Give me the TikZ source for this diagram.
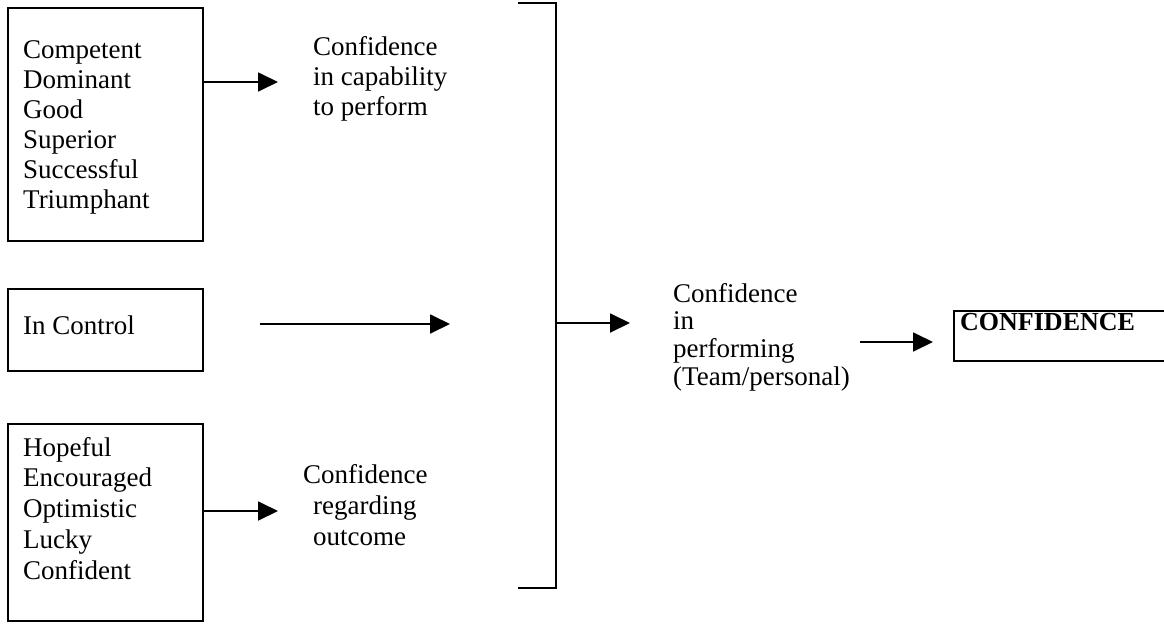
\documentclass[tikz,border=0pt]{standalone}
\usepackage{fontspec}
\setmainfont{Liberation Serif}
\usetikzlibrary{arrows.meta,positioning}
\tikzset{
  wordbox/.style = {draw, line width=1.8pt, anchor=north west, inner sep=0pt},
  words/.style   = {anchor=north west, inner sep=0pt, align=left,
                    font=\fontsize{27}{30}\selectfont},
  flow/.style    = {-{Triangle[length=20pt,width=19pt]}, line width=1.8pt},
}
\begin{document}
\begin{tikzpicture}[x=1pt,y=-1pt]
  \useasboundingbox (0,0) rectangle (1164,624);
  \clip (0,0) rectangle (1164,624);

  % framed boxes
  \node[wordbox, minimum width=195pt, minimum height=233pt] (pos)   at (7,7)    {};
  \node[wordbox, minimum width=195pt, minimum height=82pt]  (ctrl)  at (7,288)  {};
  \node[wordbox, minimum width=195pt, minimum height=197pt] (hope)  at (7,423)  {};
  \node[wordbox, minimum width=240pt, minimum height=50pt]  (final) at (953,310) {};

  % texts
  \node[words] (posw) at (23,40)
    {Competent\\Dominant\\Good\\Superior\\Successful\\Triumphant};
  \node[words] (ctrlw) at (23,316) {In Control};
  \node[words, font=\fontsize{27}{30.75}\selectfont] (hopew) at (23,437)
    {Hopeful\\Encouraged\\Optimistic\\Lucky\\Confident};
  \node[words] (capab) at (313,36) {Confidence\\in capability\\to perform};
  \node[words, font=\fontsize{27}{31}\selectfont] (outc) at (303,464)
    {Confidence\\\hspace*{10pt}regarding\\\hspace*{10pt}outcome};
  \node[words, font=\fontsize{27}{27.7}\selectfont] (perf) at (673,283)
    {Confidence\\in\\performing\\(Team/personal)};
  \node[words, font=\bfseries\fontsize{26}{30}\selectfont] (finalw) at (960,313) {CONFIDENCE};

  % bracket
  \draw[line width=2.6pt] (518,3) -- (556,3) -- (556,588) -- (518,588);
  \coordinate (brk) at (556,323);

  % arrows
  \coordinate (capin)   at (278,82);
  \coordinate (ctrlout) at (260,324);
  \coordinate (ctrlin)  at (450,324);
  \coordinate (outin)   at (278,511);
  \coordinate (perfin)  at (630,323);
  \coordinate (perfout) at (860,342);
  \coordinate (finalin) at (933,342);
  \draw[flow] (pos.east |- capin) -- (capin);
  \draw[flow] (ctrlout) -- (ctrlin);
  \draw[flow] (hope.east |- outin) -- (outin);
  \draw[flow] (brk) -- (perfin);
  \draw[flow] (perfout) -- (finalin);
\end{tikzpicture}
\end{document}
